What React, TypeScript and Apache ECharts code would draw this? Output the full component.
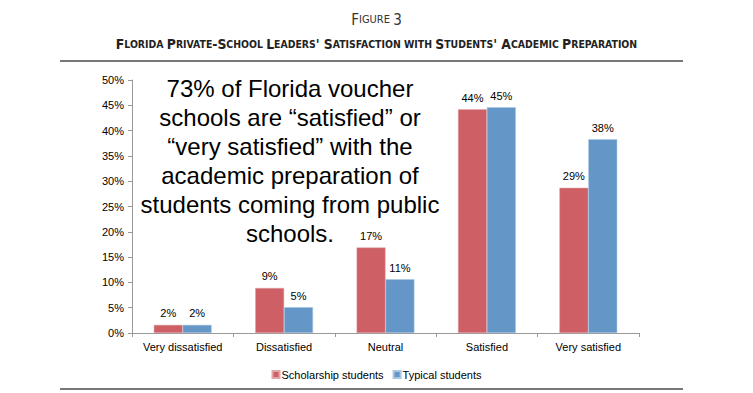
import React, { useEffect, useRef } from "react";
import * as echarts from "echarts";

const categories = ["Very dissatisfied", "Dissatisfied", "Neutral", "Satisfied", "Very satisfied"];
const scholarship = [1.6, 8.9, 16.9, 44.2, 28.7];
const typical = [1.6, 5.1, 10.6, 44.6, 38.3];
const seriesNames = ["Scholarship students", "Typical students"];
const figureLabel = "Figure 3";
const titleText = "Florida Private-School Leaders' Satisfaction with Students' Academic Preparation";
const annotation = [
  "73% of Florida voucher",
  "schools are \u201csatisfied\u201d or",
  "\u201cvery satisfied\u201d with the",
  "academic preparation of",
  "students coming from public",
  "schools.",
];

// Convert text into small-caps rich-text runs
function smallCaps(text: string, big: string, small: string): string {
  let out = "";
  let run = "";
  let runIsBig: boolean | null = null;
  const flush = () => {
    if (run.length) out += `{${runIsBig ? big : small}|${run}}`;
    run = "";
  };
  for (const ch of text) {
    const isBig = ch !== ch.toLowerCase() || /[0-9'\-]/.test(ch);
    const isSpace = ch === " ";
    if (isSpace) {
      run += ch;
      continue;
    }
    if (runIsBig !== isBig) {
      flush();
      runIsBig = isBig;
    }
    run += isBig ? ch : ch.toUpperCase();
  }
  flush();
  return out;
}

export default function App() {
  const ref = useRef<HTMLDivElement>(null);
  useEffect(() => {
    if (!ref.current) return;
    const chart = echarts.init(ref.current, null, { renderer: "svg" });
    const labelFmt = (p: any) => `${Math.round(p.value)}%`;
    chart.setOption({
      animation: false,
      backgroundColor: "#ffffff",
      textStyle: { fontFamily: "Liberation Sans, Arial, sans-serif" },
      grid: { left: 132, right: 114, top: 80, bottom: 60 },
      legend: {
        data: seriesNames,
        left: "center",
        top: 364,
        icon: "rect",
        itemWidth: 7,
        itemHeight: 7,
        itemGap: 9,
        textStyle: { fontSize: 11, color: "#000", padding: [0, 0, 0, -3] },
      },
      xAxis: {
        type: "category",
        data: categories,
        axisLine: { lineStyle: { color: "#999", width: 1 } },
        axisTick: { show: true, length: 4, lineStyle: { color: "#999" } },
        axisLabel: { fontSize: 11, color: "#000", margin: 8, interval: 0 },
      },
      yAxis: {
        type: "value",
        min: 0,
        max: 50,
        interval: 5,
        splitLine: { show: false },
        axisLine: { show: true, lineStyle: { color: "#999", width: 1 } },
        axisTick: { show: true, length: 4, lineStyle: { color: "#999" } },
        axisLabel: { fontSize: 11, color: "#000", formatter: "{value}%", margin: 8 },
      },
      series: [
        {
          name: seriesNames[0],
          type: "bar",
          data: scholarship,
          barGap: "0%",
          barCategoryGap: "43%",
          itemStyle: { color: "#cd5f65", borderColor: "#e2a5a8", borderWidth: 0.5 },
          label: { show: true, position: "top", distance: 6, fontSize: 11, color: "#000", formatter: labelFmt },
        },
        {
          name: seriesNames[1],
          type: "bar",
          data: typical,
          barGap: "0%",
          barCategoryGap: "43%",
          itemStyle: { color: "#6596c8", borderColor: "#a9c6e3", borderWidth: 0.5 },
          label: { show: true, position: "top", distance: 6, fontSize: 11, color: "#000", formatter: labelFmt },
        },
      ],
      graphic: [
        {
          type: "text",
          left: "center",
          top: 12,
          style: {
            text: smallCaps(figureLabel, "fb", "fs"),
            rich: {
              fb: { fontSize: 15, fontFamily: "DejaVu Sans Condensed", fill: "#333" },
              fs: { fontSize: 11, fontFamily: "DejaVu Sans Condensed", fill: "#333" },
            },
          },
        },
        {
          type: "text",
          left: "center",
          top: 37,
          style: {
            text: smallCaps(titleText, "tb", "ts"),
            rich: {
              tb: { fontSize: 13.8, fontWeight: "bold", fontFamily: "DejaVu Sans Condensed", fill: "#222" },
              ts: { fontSize: 10.4, fontWeight: "bold", fontFamily: "DejaVu Sans Condensed", fill: "#222" },
            },
          },
        },
        {
          type: "line",
          shape: { x1: 60, y1: 61, x2: 683, y2: 61 },
          style: { stroke: "#777", lineWidth: 2 },
        },
        {
          type: "line",
          shape: { x1: 60, y1: 389, x2: 683, y2: 389 },
          style: { stroke: "#777", lineWidth: 2 },
        },
        {
          type: "text",
          x: 290,
          y: 74,
          style: {
            text: annotation.join("\n"),
            fontSize: 24,
            lineHeight: 29,
            fontFamily: "Liberation Sans, Arial, sans-serif",
            fill: "#000",
            textAlign: "center",
            textVerticalAlign: "top",
          },
        },
      ],
    });
    return () => chart.dispose();
  }, []);
  return <div ref={ref} style={{ width: 753, height: 393, position: "absolute", left: 0, top: 0 }} />;
}
